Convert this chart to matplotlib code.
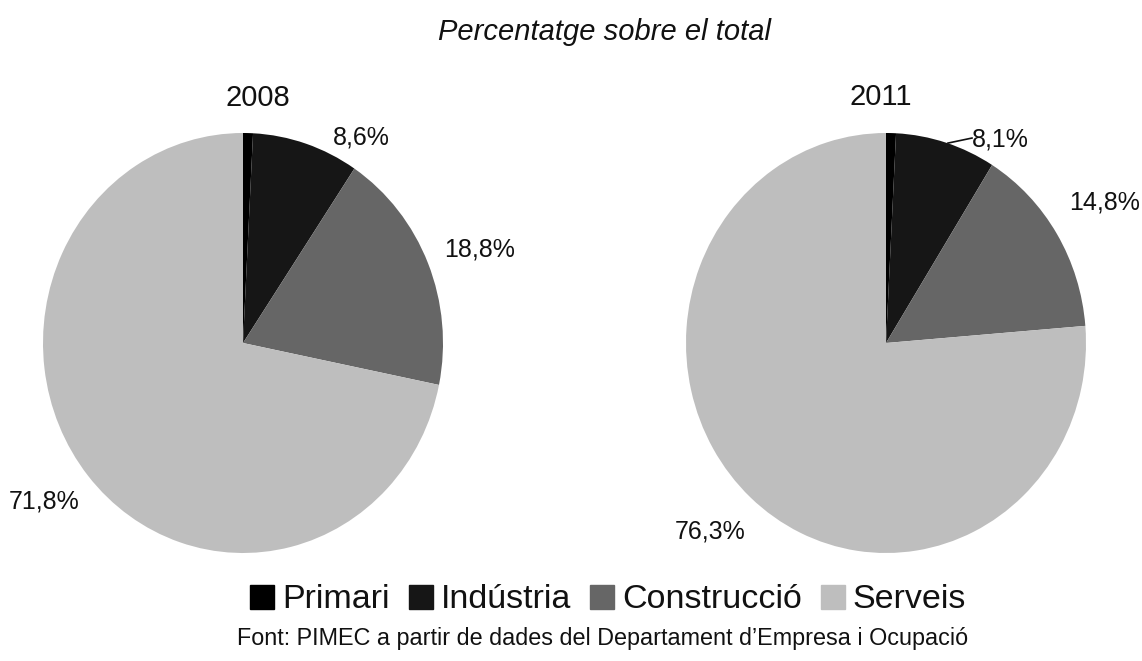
import matplotlib
matplotlib.use('Agg')
import matplotlib.pyplot as plt
from matplotlib.lines import Line2D

plt.rcParams['font.family'] = ['Liberation Sans', 'DejaVu Sans']

# dades
sectors = ['Primari', 'Indústria', 'Construcció', 'Serveis']
years = ['2008', '2011']
share_2008 = [0.8, 8.6, 18.8, 71.8]
share_2011 = [0.8, 8.1, 14.8, 76.3]
label_2008 = ['', '8,6%', '18,8%', '71,8%']
label_2011 = ['', '8,1%', '14,8%', '76,3%']

colors = ['#000000', '#161616', '#666666', '#bebebe']

W, H = 1142, 661
fig = plt.figure(figsize=(W / 100, H / 100), dpi=100)

# posicions de les etiquetes (coordenades normalitzades del pastís)
label_pos = {
    '2008': [None, (0.59, 0.98), (1.185, 0.443), (-0.995, -0.757)],
    '2011': [None, (0.57, 0.971), (1.095, 0.667), (-0.88, -0.90)],
}


def draw_pie(cx, values, labels, year):
    ax = fig.add_axes([(cx - 200) / W, (H - 553) / H, 400 / W, 420 / H])
    ax.pie(values, colors=colors, startangle=90, counterclock=False,
           radius=1, wedgeprops=dict(linewidth=0))
    ax.set_aspect('auto')
    ax.set_xlim(-1, 1)
    ax.set_ylim(-1, 1)
    ax.axis('off')
    for lab, pos in zip(labels, label_pos[year]):
        if not lab:
            continue
        ax.text(pos[0], pos[1], lab, ha='center', va='center', fontsize=18,
                color='#111111', clip_on=False)
    return ax


ax1 = draw_pie(243, share_2008, label_2008, '2008')
ax2 = draw_pie(886, share_2011, label_2011, '2011')

# línia guia de l'etiqueta 8,1%
ax2.plot([0.31, 0.43], [0.952, 0.976], color='#111111', linewidth=1.2, clip_on=False)

fig.text(604 / W, 1 - 32 / H, 'Percentatge sobre el total', ha='center', va='center',
         fontsize=21, style='italic', color='#111111')
fig.text(258 / W, 1 - 98 / H, years[0], ha='center', va='center', fontsize=21, color='#111111')
fig.text(881 / W, 1 - 97 / H, years[1], ha='center', va='center', fontsize=21, color='#111111')

handles = [Line2D([], [], marker='s', linestyle='none', markersize=17,
                  markerfacecolor=c, markeredgecolor=c) for c in colors]
fig.legend(handles, sectors, loc='center', bbox_to_anchor=(608 / W, 1 - 600 / H),
           ncol=4, frameon=False, fontsize=24.5, handlelength=0.75, handletextpad=0.2,
           columnspacing=0.55, borderpad=0, labelcolor='#111111')

fig.text(603 / W, 1 - 639 / H, 'Font: PIMEC a partir de dades del Departament d’Empresa i Ocupació',
         ha='center', va='center', fontsize=16.8, color='#111111')

fig.savefig('out.png', dpi=100, facecolor='white')
